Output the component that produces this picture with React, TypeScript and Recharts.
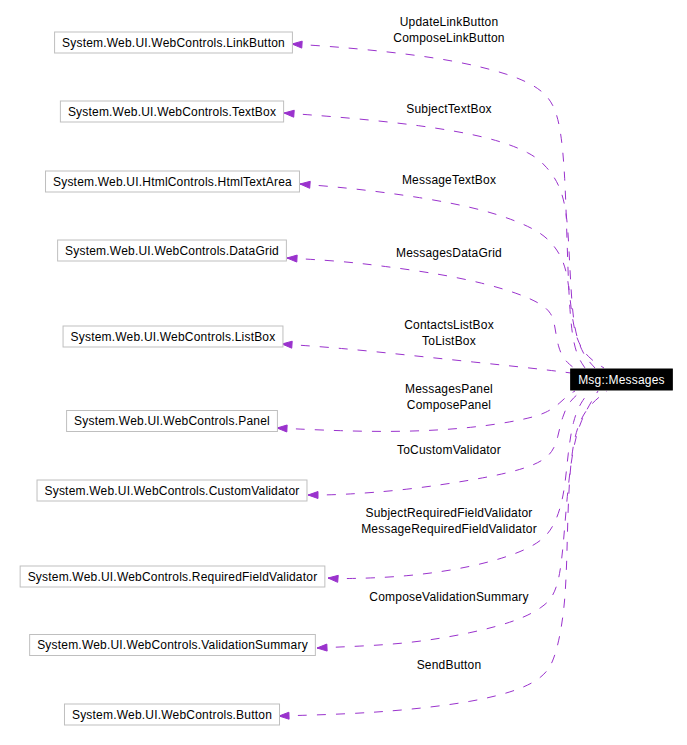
import { ComposedChart, Line, Scatter, XAxis, YAxis } from "recharts";

// ── Diagram data (diagram units = px of the 687x745 canvas) ──────────────────
const CENTER = "Msg::Messages";
const CENTER_POS = { x: 621.5, y: 379.5 };

const TARGETS = [
  "System.Web.UI.WebControls.LinkButton",
  "System.Web.UI.WebControls.TextBox",
  "System.Web.UI.HtmlControls.HtmlTextArea",
  "System.Web.UI.WebControls.DataGrid",
  "System.Web.UI.WebControls.ListBox",
  "System.Web.UI.WebControls.Panel",
  "System.Web.UI.WebControls.CustomValidator",
  "System.Web.UI.WebControls.RequiredFieldValidator",
  "System.Web.UI.WebControls.ValidationSummary",
  "System.Web.UI.WebControls.Button",
];
const TARGET_X = [173.5, 172, 172.5, 172, 173, 172, 172, 172.5, 172.5, 172];
const TARGET_Y = [42.5, 111.5, 181.5, 250.5, 336.5, 421, 490.5, 576.5, 645, 714.5];

const EDGE_LABELS = [
  ["UpdateLinkButton", "ComposeLinkButton"],
  ["SubjectTextBox"],
  ["MessageTextBox"],
  ["MessagesDataGrid"],
  ["ContactsListBox", "ToListBox"],
  ["MessagesPanel", "ComposePanel"],
  ["ToCustomValidator"],
  ["SubjectRequiredFieldValidator", "MessageRequiredFieldValidator"],
  ["ComposeValidationSummary"],
  ["SendButton"],
];
const LABEL_X = 449;
const LABEL_Y = [30, 109, 180, 253, 332.5, 397, 450, 521, 597, 665];

// edge routes, arrow tip first
const ROUTES: [number, number][][] = [
  [[292, 44], [340, 47], [400, 53], [457, 61], [510, 74], [540, 88], [554, 104], [561, 130], [565, 175], [567, 240], [569, 300], [572, 335], [577, 356], [585, 368]],
  [[284, 113], [340, 117], [420, 125], [490, 137], [532, 153], [547, 167], [560, 185], [567, 213], [569, 250], [571, 290], [574, 330], [583, 355], [595, 368]],
  [[300, 184], [350, 188], [420, 197], [487, 210], [532, 227], [550, 240], [562, 257], [568, 277], [571, 310], [576, 340], [588, 358], [604, 368]],
  [[287, 258], [340, 261], [383, 266], [440, 274], [483, 283], [517, 293], [540, 303], [552, 313], [555, 327], [558, 347], [564, 360], [574, 368]],
  [[282, 344], [340, 348], [407, 355], [473, 362], [540, 369], [571, 373]],
  [[277, 428], [340, 431], [407, 432], [473, 428], [523, 420], [547, 413], [560, 403], [568, 395], [575, 391]],
  [[308, 495], [340, 495], [407, 490], [473, 480], [513, 472], [540, 463], [553, 452], [558, 437], [562, 417], [570, 400], [582, 391]],
  [[328, 578], [340, 579], [407, 577], [473, 567], [520, 553], [543, 540], [553, 527], [560, 510], [565, 487], [568, 453], [573, 420], [581, 402], [590, 391]],
  [[317, 648], [340, 647], [407, 644], [473, 633], [520, 620], [543, 607], [553, 597], [560, 577], [564, 537], [567, 497], [572, 453], [580, 420], [598, 391]],
  [[279, 716], [350, 714], [407, 710], [473, 702], [520, 690], [543, 677], [553, 663], [560, 637], [565, 603], [567, 557], [568, 503], [572, 440], [585, 408], [607, 391]],
];

// ── Theme ─────────────────────────────────────────────────────────────────────
const FONT = "'Liberation Sans', Arial, Helvetica, sans-serif";
const FONT_SIZE = 12;
const SPACING = 0.2;
const EDGE_COLOR = "#9a32cd";
const BOX_BORDER = "#bfbfbf";
const BOX_H = 21;
const BOX_PAD = 7.5;

let ctx: CanvasRenderingContext2D | null = null;
function textWidth(s: string) {
  if (!ctx) {
    ctx = document.createElement("canvas").getContext("2d");
    if (ctx) ctx.font = `${FONT_SIZE}px ${FONT}`;
  }
  const w = ctx ? ctx.measureText(s).width : s.length * 6;
  return w + s.length * SPACING;
}

const nodes = [
  ...TARGETS.map((name, i) => ({ name, x: TARGET_X[i], y: TARGET_Y[i], dark: false })),
  { name: CENTER, x: CENTER_POS.x, y: CENTER_POS.y, dark: true },
];
const labels = EDGE_LABELS.map((lines, i) => ({ lines, x: LABEL_X, y: LABEL_Y[i] }));
const edges = ROUTES.map((r) => r.map(([x, y]) => ({ x, y })));

function NodeBox(props: any) {
  const { cx, cy, payload } = props;
  const w = textWidth(payload.name) + BOX_PAD * 2;
  return (
    <g>
      <rect
        x={cx - w / 2}
        y={cy - BOX_H / 2}
        width={w}
        height={BOX_H}
        fill={payload.dark ? "#000" : "#fff"}
        stroke={payload.dark ? "#000" : BOX_BORDER}
        strokeWidth={1}
      />
      <text
        x={cx}
        y={cy}
        textAnchor="middle"
        dominantBaseline="central"
        fontFamily={FONT}
        fontSize={FONT_SIZE}
        letterSpacing={SPACING}
        fill={payload.dark ? "#fff" : "#000"}
      >
        {payload.name}
      </text>
    </g>
  );
}

function EdgeLabel(props: any) {
  const { cx, cy, payload } = props;
  const n = payload.lines.length;
  return (
    <text
      textAnchor="middle"
      dominantBaseline="central"
      fontFamily={FONT}
      fontSize={FONT_SIZE}
      letterSpacing={SPACING}
      fill="#000"
    >
      {payload.lines.map((l: string, i: number) => (
        <tspan key={l} x={cx} y={cy + (i - (n - 1) / 2) * 16}>
          {l}
        </tspan>
      ))}
    </text>
  );
}

function arrowDot(route: { x: number; y: number }[]) {
  const a = Math.atan2(route[1].y - route[0].y, route[1].x - route[0].x);
  return (props: any) => {
    const { cx, cy, index } = props;
    if (index !== 0) return <g key={`d${index}`} />;
    const len = 10;
    const hw = 3.5;
    const bx = cx + Math.cos(a) * len;
    const by = cy + Math.sin(a) * len;
    const px = -Math.sin(a) * hw;
    const py = Math.cos(a) * hw;
    return (
      <polygon
        key="tip"
        points={`${cx},${cy} ${bx + px},${by + py} ${bx - px},${by - py}`}
        fill={EDGE_COLOR}
        stroke={EDGE_COLOR}
        strokeWidth={1}
      />
    );
  };
}

export default function App() {
  return (
    <div style={{ position: "absolute", left: 0, top: 0, background: "#fff" }}>
      <ComposedChart width={687} height={745} margin={{ top: 0, right: 0, bottom: 0, left: 0 }}>
        <XAxis type="number" dataKey="x" domain={[0, 687]} hide allowDataOverflow />
        <YAxis type="number" dataKey="y" domain={[0, 745]} reversed hide allowDataOverflow />
        {edges.map((route, i) => (
          <Line
            key={`e${i}`}
            data={route}
            dataKey="y"
            type="basis"
            stroke={EDGE_COLOR}
            strokeWidth={1}
            strokeDasharray="9 10"
            dot={arrowDot(route)}
            activeDot={false}
            isAnimationActive={false}
          />
        ))}
        <Scatter data={nodes} dataKey="y" shape={NodeBox} isAnimationActive={false} />
        <Scatter data={labels} dataKey="y" shape={EdgeLabel} isAnimationActive={false} />
      </ComposedChart>
    </div>
  );
}
